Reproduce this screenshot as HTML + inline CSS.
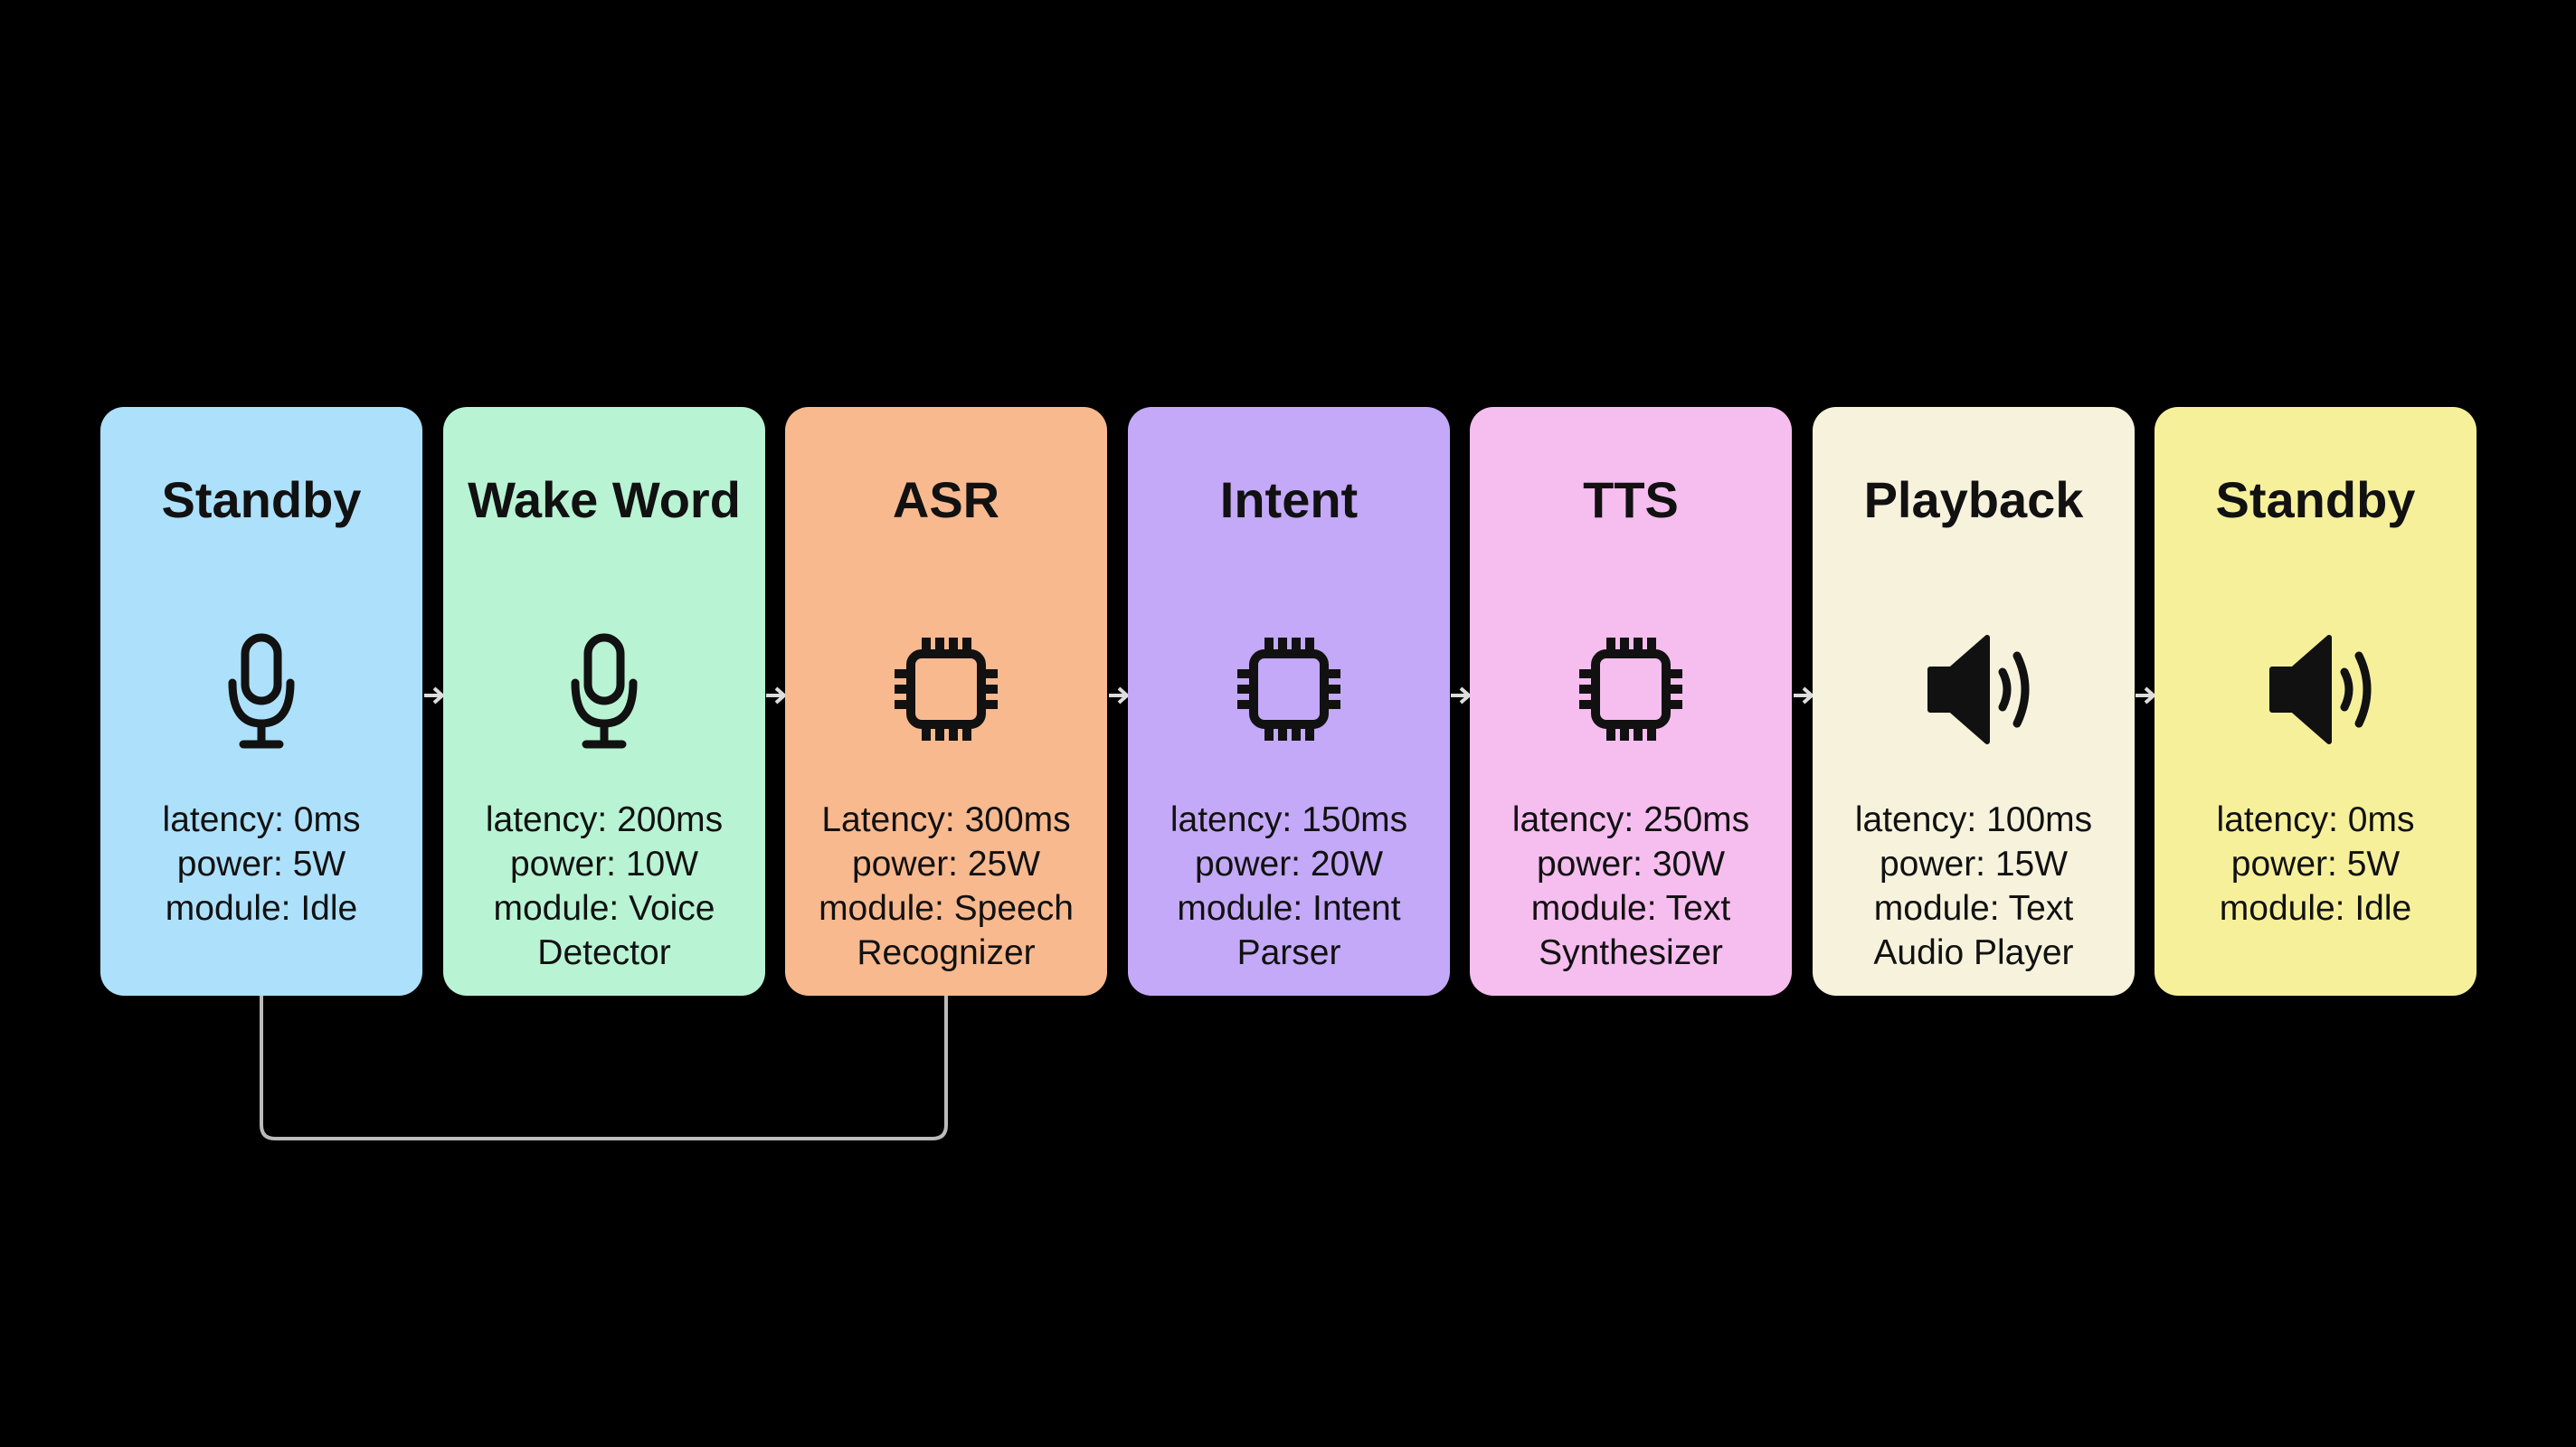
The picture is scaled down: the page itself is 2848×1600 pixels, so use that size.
<!DOCTYPE html>
<html><head><meta charset="utf-8"><style>
body{margin:0;background:#000;width:2848px;height:1600px;overflow:hidden;position:relative;font-family:"Liberation Sans",sans-serif;}
.card{position:absolute;top:450px;width:356px;height:651px;border-radius:26px;color:#111;text-align:center;}
.t{position:absolute;top:70px;left:0;right:0;font-weight:bold;font-size:56px;}
.d{position:absolute;top:432px;left:0;right:0;font-size:39px;line-height:49px;}
svg.ic{position:absolute;left:118px;top:250px;}
</style></head><body>
<svg width="2848" height="1600" style="position:absolute;left:0;top:0">
<path d="M289 1101 V1244 Q289 1259 304 1259 H1031 Q1046 1259 1046 1244 V1101" fill="none" stroke="#bbb" stroke-width="4"/>
<g stroke="#ddd" stroke-width="4" fill="none">
<path d="M469 769 H488 M480 761 L489 769 L480 777"/>
<path d="M847 769 H866 M858 761 L867 769 L858 777"/>
<path d="M1226 769 H1245 M1237 761 L1246 769 L1237 777"/>
<path d="M1604 769 H1623 M1615 761 L1624 769 L1615 777"/>
<path d="M1983 769 H2002 M1994 761 L2003 769 L1994 777"/>
<path d="M2361 769 H2380 M2372 761 L2381 769 L2372 777"/>
</g></svg>

<div class="card" style="left:111px;background:#ade0fb"><div class="t">Standby</div>
<svg class="ic" width="120" height="130" viewBox="0 0 120 130"><g fill="none" stroke="#111" stroke-width="9" stroke-linecap="round"><rect x="42" y="5" width="36" height="70" rx="18"/><path d="M28 55 Q28 100 60 100 Q92 100 92 55"/><path d="M60 100 V122 M40 123 H80"/></g></svg>
<div class="d">latency: 0ms<br>power: 5W<br>module: Idle</div></div>

<div class="card" style="left:490px;background:#b8f3d4"><div class="t">Wake Word</div>
<svg class="ic" width="120" height="130" viewBox="0 0 120 130"><g fill="none" stroke="#111" stroke-width="9" stroke-linecap="round"><rect x="42" y="5" width="36" height="70" rx="18"/><path d="M28 55 Q28 100 60 100 Q92 100 92 55"/><path d="M60 100 V122 M40 123 H80"/></g></svg>
<div class="d">latency: 200ms<br>power: 10W<br>module: Voice<br>Detector</div></div>

<div class="card" style="left:868px;background:#f8b98f"><div class="t">ASR</div>
<svg class="ic" width="120" height="130" viewBox="0 0 120 130"><g fill="none" stroke="#111" stroke-width="10"><rect x="21" y="23" width="78" height="78" rx="12"/><path d="M38 5V23M53 5V23M68 5V23M83 5V23M38 101V119M53 101V119M68 101V119M83 101V119M3 45H21M3 62H21M3 79H21M99 45H117M99 62H117M99 79H117"/></g></svg>
<div class="d">Latency: 300ms<br>power: 25W<br>module: Speech<br>Recognizer</div></div>

<div class="card" style="left:1247px;background:#c3a9f7"><div class="t">Intent</div>
<svg class="ic" width="120" height="130" viewBox="0 0 120 130"><g fill="none" stroke="#111" stroke-width="10"><rect x="21" y="23" width="78" height="78" rx="12"/><path d="M38 5V23M53 5V23M68 5V23M83 5V23M38 101V119M53 101V119M68 101V119M83 101V119M3 45H21M3 62H21M3 79H21M99 45H117M99 62H117M99 79H117"/></g></svg>
<div class="d">latency: 150ms<br>power: 20W<br>module: Intent<br>Parser</div></div>

<div class="card" style="left:1625px;background:#f6bdef"><div class="t">TTS</div>
<svg class="ic" width="120" height="130" viewBox="0 0 120 130"><g fill="none" stroke="#111" stroke-width="10"><rect x="21" y="23" width="78" height="78" rx="12"/><path d="M38 5V23M53 5V23M68 5V23M83 5V23M38 101V119M53 101V119M68 101V119M83 101V119M3 45H21M3 62H21M3 79H21M99 45H117M99 62H117M99 79H117"/></g></svg>
<div class="d">latency: 250ms<br>power: 30W<br>module: Text<br>Synthesizer</div></div>

<div class="card" style="left:2004px;background:#f6f2dc"><div class="t">Playback</div>
<svg class="ic" width="130" height="130" viewBox="0 0 130 130"><path d="M12 40 H35 L75 5 V120 L35 85 H12 Z" fill="#111" stroke="#111" stroke-width="6" stroke-linejoin="round"/><g fill="none" stroke="#111" stroke-width="9" stroke-linecap="round"><path d="M92 43 Q102 62 92 82"/><path d="M108 25 Q126 62 108 100"/></g></svg>
<div class="d">latency: 100ms<br>power: 15W<br>module: Text<br>Audio Player</div></div>

<div class="card" style="left:2382px;background:#f6f09b"><div class="t">Standby</div>
<svg class="ic" width="130" height="130" viewBox="0 0 130 130"><path d="M12 40 H35 L75 5 V120 L35 85 H12 Z" fill="#111" stroke="#111" stroke-width="6" stroke-linejoin="round"/><g fill="none" stroke="#111" stroke-width="9" stroke-linecap="round"><path d="M92 43 Q102 62 92 82"/><path d="M108 25 Q126 62 108 100"/></g></svg>
<div class="d">latency: 0ms<br>power: 5W<br>module: Idle</div></div>
</body></html>
